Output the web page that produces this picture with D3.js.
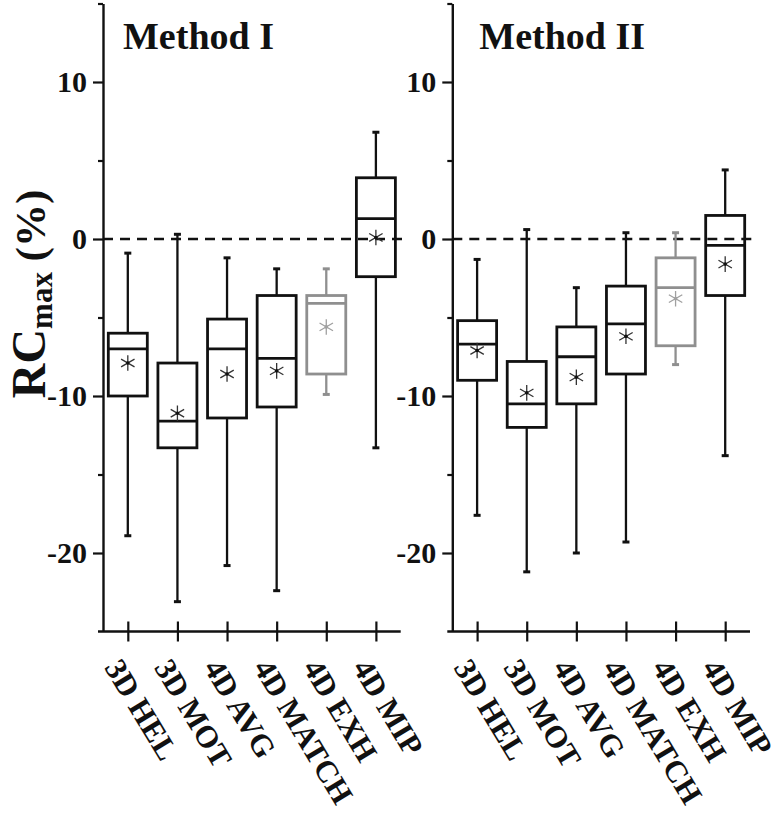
<!DOCTYPE html>
<html>
<head>
<meta charset="utf-8">
<script src="https://cdn.jsdelivr.net/npm/d3@7"></script>
<style>
  html, body { margin: 0; padding: 0; background: #fff; }
  svg { display: block; }
  text { font-family: "Liberation Serif", "Times New Roman", serif; font-weight: bold; }
</style>
</head>
<body>
<svg id="chart" width="780" height="816"></svg>
<script>
// ---- data ----
const categories = ["3D HEL", "3D MOT", "4D AVG", "4D MATCH", "4D EXH", "4D MIP"];
const panelTitles = ["Method I", "Method II"];
const yMajorTicks = [-20, -10, 0, 10];
const yMinorTicks = [-15, -5, 5, 15];
const highlightCategory = "4D EXH";

const m1Max    = [-0.9,   0.3,  -1.2,  -1.9, -1.9,  6.8];
const m1Q3     = [-6.0,  -7.9,  -5.1,  -3.6, -3.6,  3.9];
const m1Median = [-7.0, -11.6,  -7.0,  -7.6, -4.1,  1.3];
const m1Mean   = [-7.9, -11.1,  -8.6,  -8.4, -5.6,  0.1];
const m1Q1     = [-10.0, -13.3, -11.4, -10.7, -8.6, -2.4];
const m1Min    = [-18.9, -23.1, -20.8, -22.4, -9.9, -13.3];

const m2Max    = [-1.3,   0.6,  -3.1,   0.4,  0.4,  4.4];
const m2Q3     = [-5.2,  -7.8,  -5.6,  -3.0, -1.2,  1.5];
const m2Median = [-6.7, -10.5,  -7.5,  -5.4, -3.1, -0.4];
const m2Mean   = [-7.1,  -9.8,  -8.8,  -6.2, -3.8, -1.6];
const m2Q1     = [-9.0, -12.0, -10.5,  -8.6, -6.8, -3.6];
const m2Min    = [-17.6, -21.2, -20.0, -19.3, -8.0, -13.8];

function buildRows(mx, q3, med, mean, q1, mn) {
  return categories.map((c, i) => ({ cat: c, max: mx[i], q3: q3[i], median: med[i], mean: mean[i], q1: q1[i], min: mn[i] }));
}
const panels = [
  { title: panelTitles[0], rows: buildRows(m1Max, m1Q3, m1Median, m1Mean, m1Q1, m1Min), x0: 103, x1: 400.7, tx: 20 },
  { title: panelTitles[1], rows: buildRows(m2Max, m2Q3, m2Median, m2Mean, m2Q1, m2Min), x0: 452.3, x1: 750, tx: 27 }
];

// ---- drawing ----
const svg = d3.select("#chart");
const BLACK = "#111";
const GRAY = "#8f8f8f";
const y = d3.scaleLinear().domain([-25, 15]).range([631.5, 3.5]);
const boxW = 39;
const capW = 7;
const asterisk = d3.symbol().type(d3.symbolAsterisk || d3.symbolCross).size(170);

panels.forEach(p => {
  const g = svg.append("g");
  const x = d3.scalePoint().domain(categories).range([p.x0, p.x1]).padding(0.5);

  // zero reference dashed line
  g.append("line")
    .attr("x1", p.x0).attr("x2", p.x1 + 4)
    .attr("y1", y(0)).attr("y2", y(0))
    .attr("stroke", BLACK).attr("stroke-width", 2.3)
    .attr("stroke-dasharray", "10,7");

  // y axis majors
  const ya = g.append("g").attr("transform", `translate(${p.x0},0)`)
    .call(d3.axisLeft(y).tickValues(yMajorTicks).tickSize(10).tickSizeOuter(0).tickPadding(6)
      .tickFormat(d => d));
  ya.select(".domain").attr("stroke", BLACK).attr("stroke-width", 2.4);
  ya.selectAll(".tick line").attr("stroke", BLACK).attr("stroke-width", 2.2);
  ya.selectAll(".tick text").attr("font-size", 30).attr("fill", BLACK)
    .attr("font-family", "'Liberation Serif', serif").attr("font-weight", "bold");

  // y axis minors
  const ym = g.append("g").attr("transform", `translate(${p.x0},0)`)
    .call(d3.axisLeft(y).tickValues(yMinorTicks).tickSize(5).tickSizeOuter(0).tickFormat(""));
  ym.select(".domain").remove();
  ym.selectAll(".tick line").attr("stroke", BLACK).attr("stroke-width", 2.2);

  // x axis
  const xa = g.append("g").attr("transform", `translate(0,${y(-25)})`)
    .call(d3.axisBottom(x).tickSize(10).tickSizeOuter(0).tickFormat(""));
  xa.select(".domain").remove();
  xa.selectAll(".tick line").attr("y1", -10).attr("y2", 10).attr("stroke", BLACK).attr("stroke-width", 2.2);
  g.append("line").attr("x1", p.x0 - 5).attr("x2", p.x1).attr("y1", y(-25)).attr("y2", y(-25))
    .attr("stroke", BLACK).attr("stroke-width", 2.4);

  // x labels (rotated)
  g.selectAll("text.xlab").data(categories).enter().append("text")
    .attr("class", "xlab")
    .attr("transform", d => `translate(${x(d) - 24},${y(-25) + 36}) rotate(59)`)
    .attr("text-anchor", "start")
    .attr("font-size", 31)
    .attr("fill", BLACK)
    .text(d => d);

  // title
  g.append("text").attr("x", p.x0 + p.tx).attr("y", 49)
    .attr("font-size", 38).attr("fill", BLACK).text(p.title);

  // boxes
  const bg = g.selectAll("g.box").data(p.rows).enter().append("g").attr("class", "box");
  const col = d => d.cat === highlightCategory ? GRAY : BLACK;

  bg.append("line").attr("x1", d => x(d.cat)).attr("x2", d => x(d.cat))
    .attr("y1", d => y(d.max)).attr("y2", d => y(d.q3))
    .attr("stroke", col).attr("stroke-width", 2.3);
  bg.append("line").attr("x1", d => x(d.cat)).attr("x2", d => x(d.cat))
    .attr("y1", d => y(d.q1)).attr("y2", d => y(d.min))
    .attr("stroke", col).attr("stroke-width", 2.3);
  bg.append("line").attr("x1", d => x(d.cat) - capW / 2).attr("x2", d => x(d.cat) + capW / 2)
    .attr("y1", d => y(d.max)).attr("y2", d => y(d.max))
    .attr("stroke", col).attr("stroke-width", 3);
  bg.append("line").attr("x1", d => x(d.cat) - capW / 2).attr("x2", d => x(d.cat) + capW / 2)
    .attr("y1", d => y(d.min)).attr("y2", d => y(d.min))
    .attr("stroke", col).attr("stroke-width", 3);
  bg.append("rect").attr("x", d => x(d.cat) - boxW / 2).attr("width", boxW)
    .attr("y", d => y(d.q3)).attr("height", d => y(d.q1) - y(d.q3))
    .attr("fill", "none").attr("stroke", col).attr("stroke-width", 2.8);
  bg.append("line").attr("x1", d => x(d.cat) - boxW / 2).attr("x2", d => x(d.cat) + boxW / 2)
    .attr("y1", d => y(d.median)).attr("y2", d => y(d.median))
    .attr("stroke", col).attr("stroke-width", 2.8);
  bg.append("path").attr("d", asterisk)
    .attr("transform", d => `translate(${x(d.cat)},${y(d.mean)})`)
    .attr("fill", "none")
    .attr("stroke", d => d.cat === highlightCategory ? "#a0a0a0" : "#333")
    .attr("stroke-width", 1.3);
  bg.append("circle").attr("cx", d => x(d.cat)).attr("cy", d => y(d.mean)).attr("r", 1.8)
    .attr("fill", d => d.cat === highlightCategory ? "#a0a0a0" : "#111");
});

// y-axis title
const yt = svg.append("text")
  .attr("transform", "translate(45,294) rotate(-90)")
  .attr("text-anchor", "middle")
  .attr("fill", BLACK);
yt.append("tspan").attr("font-size", 48).text("RC");
yt.append("tspan").attr("font-size", 31).attr("dy", 7).text("max");
yt.append("tspan").attr("font-size", 43).attr("dy", -7).text(" (%)");
</script>
</body>
</html>
